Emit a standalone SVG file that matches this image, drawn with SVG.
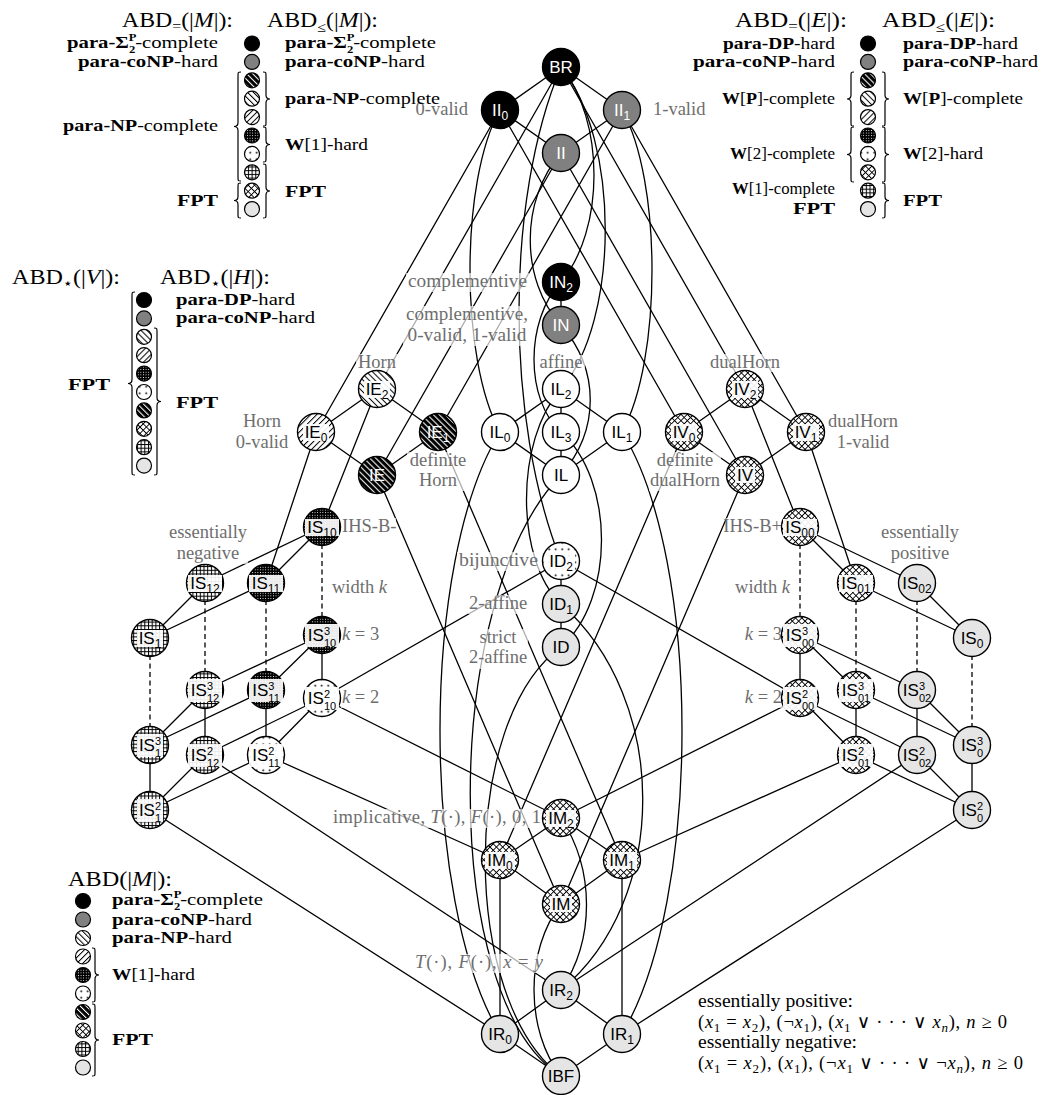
<svg xmlns="http://www.w3.org/2000/svg" width="1047" height="1095" viewBox="0 0 1047 1095">
<style>
.e{stroke:#000;stroke-width:1.3;fill:none}
.dash{stroke-dasharray:5 3.5}
.nd{stroke:#000;stroke-width:1.4}
.nl{font-family:"Liberation Sans",Arial,sans-serif;font-size:17px;text-anchor:middle;fill:#000}
.wt{fill:#fff}
.s{font-size:12px}
.t{font-size:11px}
.nb{fill:#fff;fill-opacity:0.92}
.lb{fill:#fff;fill-opacity:0.68}
.gl{font-family:"Liberation Serif","DejaVu Serif",serif;font-size:18.5px;fill:#6e6e6e}
.mid{text-anchor:middle}
.end{text-anchor:end}
.lg{font-family:"Liberation Serif","DejaVu Sans",serif;font-size:16.5px;fill:#000}
.tt{font-family:"Liberation Serif","DejaVu Sans",serif;font-size:21px;fill:#000}
.br{stroke:#000;stroke-width:1.2;fill:none}
.lc{stroke:#000;stroke-width:1.2}
.b{font-weight:bold}
.i{font-style:italic}
.ss{font-size:10px;font-weight:bold}
</style>
<defs>
<pattern id="pBW" patternUnits="userSpaceOnUse" width="4.2" height="4.2" patternTransform="rotate(-45)"><rect width="4.2" height="4.2" fill="#000"/><rect width="1.05" height="4.2" fill="#fff"/></pattern>
<pattern id="pNW" patternUnits="userSpaceOnUse" width="4.2" height="4.2" patternTransform="rotate(-45)"><rect width="4.2" height="4.2" fill="#fff"/><rect width="1" height="4.2" fill="#000"/></pattern>
<pattern id="pNE" patternUnits="userSpaceOnUse" width="4.2" height="4.2" patternTransform="rotate(45)"><rect width="4.2" height="4.2" fill="#fff"/><rect width="1" height="4.2" fill="#000"/></pattern>
<pattern id="pDD" patternUnits="userSpaceOnUse" width="2.6" height="2.6"><rect width="2.6" height="2.6" fill="#000"/><rect width="0.9" height="0.9" fill="#fff"/></pattern>
<pattern id="pSD" patternUnits="userSpaceOnUse" width="6.5" height="6.5"><rect width="6.5" height="6.5" fill="#fff"/><circle cx="3.2" cy="3.2" r="0.95" fill="#000"/></pattern>
<pattern id="pGR" patternUnits="userSpaceOnUse" width="3.7" height="3.7"><rect width="3.7" height="3.7" fill="#fff"/><rect width="3.7" height="1" fill="#000"/><rect width="1" height="3.7" fill="#000"/></pattern>
<pattern id="pXH" patternUnits="userSpaceOnUse" width="4.5" height="4.5" patternTransform="rotate(45)"><rect width="4.5" height="4.5" fill="#fff"/><rect width="4.5" height="0.9" fill="#000"/><rect width="0.9" height="4.5" fill="#000"/></pattern>
</defs>
<rect width="1047" height="1095" fill="#fff"/>

<g id="edges">
<path class="e" d="M561,67L500,110M561,67L622,110M561,67L377,389M561,67L745,389M500,110L561,153M622,110L561,153M500,110L316,432M500,110L684,432M622,110L438,432M622,110L806,432M561,153L377,475M561,153L745,475M561,282L561,325"/>
<path class="e" d="M377,389L316,432M377,389L438,432M316,432L377,475M438,432L377,475M745,389L684,432M745,389L806,432M684,432L745,475M806,432L745,475"/>
<path class="e" d="M561,389L500,432M561,389L622,432M561,389L561,432M500,432L561,475M622,432L561,475M561,432L561,475"/>
<path class="e" d="M377,389L322,527M316,432L266,583M438,432L622,860M377,475L561,904M745,389L800,527M806,432L856,583M684,432L500,860M745,475L561,904"/>
<path class="e" d="M322,527L205,583M322,527L266,583M205,583L150,638M266,583L150,638M322,635L205,690M322,635L266,690M322,635L322,698M205,690L150,745M266,690L150,745M205,690L205,755M266,690L266,755M150,745L150,810M322,698L205,755M322,698L266,755M205,755L150,810M266,755L150,810"/>
<path class="e" d="M800,527L917,583M800,527L856,583M917,583L972,638M856,583L972,638M800,635L917,690M800,635L856,690M800,635L800,698M917,690L972,745M856,690L972,745M917,690L917,755M856,690L856,755M972,745L972,810M800,698L917,755M800,698L856,755M917,755L972,810M856,755L972,810"/>
<path class="e dash" d="M322,527L322,635M205,583L205,690M266,583L266,690M150,638L150,745M800,527L800,635M917,583L917,690M856,583L856,690M972,638L972,745"/>
<path class="e" d="M322,698L561,561M800,698L561,561M322,698L561,818M800,698L561,818M266,755L500,860M856,755L622,860M205,755L561,990M917,755L561,990M150,810L500,1034M972,810L622,1034"/>
<path class="e" d="M561,561L561,604M561,604L561,647M561,818L500,860M561,818L622,860M500,860L561,904M622,860L561,904M500,860L500,1034M622,860L622,1034M561,990L500,1034M561,990L622,1034M500,1034L561,1076M622,1034L561,1076"/>
<path class="e" d="M561,67C605,120 605,230 561,282"/>
<path class="e" d="M561,67C620,140 620,320 561,389"/>
<path class="e" d="M561,67C505,200 505,420 561,561"/>
<path class="e" d="M561,153C520,200 520,280 561,325"/>
<path class="e" d="M561,282C525,320 525,400 561,432"/>
<path class="e" d="M561,325C600,370 600,430 561,475"/>
<path class="e" d="M500,110C460,180 460,360 500,432"/>
<path class="e" d="M622,110C662,180 662,360 622,432"/>
<path class="e" d="M561,389C515,440 515,560 561,604"/>
<path class="e" d="M561,432C615,480 615,600 561,647"/>
<path class="e" d="M561,604C670,700 670,900 561,990"/>
<path class="e" d="M561,647C460,720 460,1000 561,1076"/>
<path class="e" d="M561,475C440,600 440,1000 561,1076"/>
<path class="e" d="M500,432C420,560 420,900 500,1034"/>
<path class="e" d="M622,432C702,560 702,900 622,1034"/>
<path class="e" d="M561,818C595,870 595,940 561,990"/>
<path class="e" d="M561,904C525,950 525,1030 561,1076"/>
</g>

<g id="labels">
<rect class="lb" x="414" y="101" width="56" height="19"/><text class="gl end" x="468" y="115">0-valid</text>
<rect class="lb" x="651" y="101" width="56" height="19"/><text class="gl" x="653" y="115">1-valid</text>
<rect class="lb" x="406" y="273" width="123" height="19"/><text class="gl end" x="527" y="287" textLength="119" lengthAdjust="spacingAndGlyphs">complementive</text>
<rect class="lb" x="403" y="306" width="127" height="40"/><text class="gl mid" x="467" y="320" textLength="122" lengthAdjust="spacingAndGlyphs">complementive,</text><text class="gl mid" x="467" y="341" textLength="119" lengthAdjust="spacingAndGlyphs">0-valid, 1-valid</text>
<rect class="lb" x="537" y="355" width="48" height="18"/><text class="gl mid" x="561" y="368">affine</text>
<rect class="lb" x="356" y="354" width="42" height="18"/><text class="gl mid" x="377" y="368">Horn</text>
<rect class="lb" x="233" y="413" width="58" height="40"/><text class="gl mid" x="262" y="427">Horn</text><text class="gl mid" x="262" y="448">0-valid</text>
<rect class="lb" x="407" y="452" width="62" height="39"/><text class="gl mid" x="438" y="466">definite</text><text class="gl mid" x="438" y="486">Horn</text>
<rect class="lb" x="709" y="354" width="72" height="18"/><text class="gl mid" x="745" y="368">dualHorn</text>
<rect class="lb" x="827" y="413" width="72" height="40"/><text class="gl mid" x="863" y="427">dualHorn</text><text class="gl mid" x="863" y="448">1-valid</text>
<rect class="lb" x="649" y="452" width="72" height="39"/><text class="gl mid" x="685" y="466">definite</text><text class="gl mid" x="685" y="486">dualHorn</text>
<rect class="lb" x="341" y="518" width="55" height="19"/><text class="gl" x="342" y="532">IHS-B-</text>
<rect class="lb" x="726" y="518" width="57" height="19"/><text class="gl end" x="782" y="532">IHS-B+</text>
<rect class="lb" x="168" y="524" width="80" height="40"/><text class="gl mid" x="208" y="538">essentially</text><text class="gl mid" x="208" y="559">negative</text>
<rect class="lb" x="880" y="524" width="80" height="40"/><text class="gl mid" x="920" y="538">essentially</text><text class="gl mid" x="920" y="559">positive</text>
<rect class="lb" x="331" y="579" width="60" height="19"/><text class="gl" x="332" y="593">width <tspan class="i">k</tspan></text>
<rect class="lb" x="731" y="579" width="60" height="19"/><text class="gl end" x="790" y="593">width <tspan class="i">k</tspan></text>
<rect class="lb" x="341" y="627" width="40" height="18"/><text class="gl" x="342" y="640"><tspan class="i">k</tspan> = 3</text>
<rect class="lb" x="341" y="690" width="40" height="18"/><text class="gl" x="342" y="703"><tspan class="i">k</tspan> = 2</text>
<rect class="lb" x="743" y="627" width="40" height="18"/><text class="gl end" x="782" y="640"><tspan class="i">k</tspan> = 3</text>
<rect class="lb" x="743" y="690" width="40" height="18"/><text class="gl end" x="782" y="703"><tspan class="i">k</tspan> = 2</text>
<rect class="lb" x="457" y="552" width="83" height="19"/><text class="gl end" x="538" y="566" textLength="79" lengthAdjust="spacingAndGlyphs">bijunctive</text>
<rect class="lb" x="468" y="595" width="60" height="19"/><text class="gl mid" x="498" y="609">2-affine</text>
<rect class="lb" x="468" y="629" width="60" height="40"/><text class="gl mid" x="498" y="643">strict</text><text class="gl mid" x="498" y="663">2-affine</text>
<rect class="lb" x="331" y="809" width="212" height="19"/><text class="gl end" x="541" y="823" textLength="208" lengthAdjust="spacing">implicative, <tspan class="i">T</tspan>(·), <tspan class="i">F</tspan>(·), 0, 1</text>
<rect class="lb" x="413" y="954" width="132" height="19"/><text class="gl" x="415" y="968" textLength="128" lengthAdjust="spacing"><tspan class="i">T</tspan>(·), <tspan class="i">F</tspan>(·), <tspan class="i">x</tspan> = <tspan class="i">y</tspan></text>
</g>

<g id="nodes">
<g id="n-BR"><circle class="nd" cx="561" cy="67" r="18.5" fill="#000"/><text class="nl wt" x="561" y="73">BR</text></g>
<g id="n-II0"><circle class="nd" cx="500" cy="110" r="18.5" fill="#000"/><text class="nl wt" x="500" y="116">II<tspan class="s" dy="4">0</tspan></text></g>
<g id="n-II1"><circle class="nd" cx="622" cy="110" r="18.5" fill="#808080"/><text class="nl wt" x="622" y="116">II<tspan class="s" dy="4">1</tspan></text></g>
<g id="n-II"><circle class="nd" cx="561" cy="153" r="18.5" fill="#808080"/><text class="nl wt" x="561" y="159">II</text></g>
<g id="n-IN2"><circle class="nd" cx="561" cy="282" r="18.5" fill="#000"/><text class="nl wt" x="561" y="288">IN<tspan class="s" dy="4">2</tspan></text></g>
<g id="n-IN"><circle class="nd" cx="561" cy="325" r="18.5" fill="#808080"/><text class="nl wt" x="561" y="331">IN</text></g>
<g id="n-IL2"><circle class="nd" cx="561" cy="389" r="18.5" fill="#fff"/><text class="nl" x="561" y="395">IL<tspan class="s" dy="4">2</tspan></text></g>
<g id="n-IL0"><circle class="nd" cx="500" cy="432" r="18.5" fill="#fff"/><text class="nl" x="500" y="438">IL<tspan class="s" dy="4">0</tspan></text></g>
<g id="n-IL3"><circle class="nd" cx="561" cy="432" r="18.5" fill="#fff"/><text class="nl" x="561" y="438">IL<tspan class="s" dy="4">3</tspan></text></g>
<g id="n-IL1"><circle class="nd" cx="622" cy="432" r="18.5" fill="#fff"/><text class="nl" x="622" y="438">IL<tspan class="s" dy="4">1</tspan></text></g>
<g id="n-IL"><circle class="nd" cx="561" cy="475" r="18.5" fill="#fff"/><text class="nl" x="561" y="481">IL</text></g>
<g id="n-IE2"><circle class="nd" cx="377" cy="389" r="18.5" fill="url(#pNW)"/><rect class="nb" x="364" y="381" width="26" height="17"/><text class="nl" x="377" y="395">IE<tspan class="s" dy="4">2</tspan></text></g>
<g id="n-IE0"><circle class="nd" cx="316" cy="432" r="18.5" fill="url(#pNE)"/><rect class="nb" x="303" y="424" width="26" height="17"/><text class="nl" x="316" y="438">IE<tspan class="s" dy="4">0</tspan></text></g>
<g id="n-IE1"><circle class="nd" cx="438" cy="432" r="18.5" fill="url(#pBW)"/><text class="nl wt" x="438" y="438">IE<tspan class="s" dy="4">1</tspan></text></g>
<g id="n-IE"><circle class="nd" cx="377" cy="475" r="18.5" fill="url(#pBW)"/><text class="nl wt" x="377" y="481">IE</text></g>
<g id="n-IV2"><circle class="nd" cx="745" cy="389" r="18.5" fill="url(#pXH)"/><rect class="nb" x="732" y="381" width="26" height="17"/><text class="nl" x="745" y="395">IV<tspan class="s" dy="4">2</tspan></text></g>
<g id="n-IV0"><circle class="nd" cx="684" cy="432" r="18.5" fill="url(#pXH)"/><rect class="nb" x="671" y="424" width="26" height="17"/><text class="nl" x="684" y="438">IV<tspan class="s" dy="4">0</tspan></text></g>
<g id="n-IV1"><circle class="nd" cx="806" cy="432" r="18.5" fill="url(#pXH)"/><rect class="nb" x="793" y="424" width="26" height="17"/><text class="nl" x="806" y="438">IV<tspan class="s" dy="4">1</tspan></text></g>
<g id="n-IV"><circle class="nd" cx="745" cy="475" r="18.5" fill="url(#pXH)"/><rect class="nb" x="735" y="467" width="20" height="16"/><text class="nl" x="745" y="481">IV</text></g>
<g id="n-IS10"><circle class="nd" cx="322" cy="527" r="18.5" fill="url(#pDD)"/><rect class="nb" x="305" y="519" width="34" height="17"/><text class="nl" x="322" y="533">IS<tspan class="s" dy="4">10</tspan></text></g>
<g id="n-IS12"><circle class="nd" cx="205" cy="583" r="18.5" fill="url(#pGR)"/><rect class="nb" x="188" y="575" width="34" height="17"/><text class="nl" x="205" y="589">IS<tspan class="s" dy="4">12</tspan></text></g>
<g id="n-IS11"><circle class="nd" cx="266" cy="583" r="18.5" fill="url(#pDD)"/><rect class="nb" x="249" y="575" width="34" height="17"/><text class="nl" x="266" y="589">IS<tspan class="s" dy="4">11</tspan></text></g>
<g id="n-IS1"><circle class="nd" cx="150" cy="638" r="18.5" fill="url(#pGR)"/><rect class="nb" x="137" y="630" width="26" height="17"/><text class="nl" x="150" y="644">IS<tspan class="s" dy="4">1</tspan></text></g>
<g id="n-IS10-3"><circle class="nd" cx="322" cy="635" r="18.5" fill="url(#pDD)"/><rect class="nb" x="305" y="624" width="34" height="23"/><text class="nl" x="322" y="641">IS<tspan class="t" dy="-6.5">3</tspan><tspan class="t" dx="-6.1" dy="12.5">10</tspan></text></g>
<g id="n-IS12-3"><circle class="nd" cx="205" cy="690" r="18.5" fill="url(#pGR)"/><rect class="nb" x="188" y="679" width="34" height="23"/><text class="nl" x="205" y="696">IS<tspan class="t" dy="-6.5">3</tspan><tspan class="t" dx="-6.1" dy="12.5">12</tspan></text></g>
<g id="n-IS11-3"><circle class="nd" cx="266" cy="690" r="18.5" fill="url(#pDD)"/><rect class="nb" x="249" y="679" width="34" height="23"/><text class="nl" x="266" y="696">IS<tspan class="t" dy="-6.5">3</tspan><tspan class="t" dx="-6.1" dy="12.5">11</tspan></text></g>
<g id="n-IS1-3"><circle class="nd" cx="150" cy="745" r="18.5" fill="url(#pGR)"/><rect class="nb" x="137" y="734" width="26" height="23"/><text class="nl" x="150" y="751">IS<tspan class="t" dy="-6.5">3</tspan><tspan class="t" dx="-6.1" dy="12.5">1</tspan></text></g>
<g id="n-IS10-2"><circle class="nd" cx="322" cy="698" r="18.5" fill="url(#pSD)"/><rect class="nb" x="305" y="687" width="34" height="23"/><text class="nl" x="322" y="704">IS<tspan class="t" dy="-6.5">2</tspan><tspan class="t" dx="-6.1" dy="12.5">10</tspan></text></g>
<g id="n-IS12-2"><circle class="nd" cx="205" cy="755" r="18.5" fill="url(#pGR)"/><rect class="nb" x="188" y="744" width="34" height="23"/><text class="nl" x="205" y="761">IS<tspan class="t" dy="-6.5">2</tspan><tspan class="t" dx="-6.1" dy="12.5">12</tspan></text></g>
<g id="n-IS11-2"><circle class="nd" cx="266" cy="755" r="18.5" fill="url(#pSD)"/><rect class="nb" x="249" y="744" width="34" height="23"/><text class="nl" x="266" y="761">IS<tspan class="t" dy="-6.5">2</tspan><tspan class="t" dx="-6.1" dy="12.5">11</tspan></text></g>
<g id="n-IS1-2"><circle class="nd" cx="150" cy="810" r="18.5" fill="url(#pGR)"/><rect class="nb" x="137" y="799" width="26" height="23"/><text class="nl" x="150" y="816">IS<tspan class="t" dy="-6.5">2</tspan><tspan class="t" dx="-6.1" dy="12.5">1</tspan></text></g>
<g id="n-IS00"><circle class="nd" cx="800" cy="527" r="18.5" fill="url(#pXH)"/><rect class="nb" x="783" y="519" width="34" height="17"/><text class="nl" x="800" y="533">IS<tspan class="s" dy="4">00</tspan></text></g>
<g id="n-IS02"><circle class="nd" cx="917" cy="583" r="18.5" fill="#e5e5e5"/><text class="nl" x="917" y="589">IS<tspan class="s" dy="4">02</tspan></text></g>
<g id="n-IS01"><circle class="nd" cx="856" cy="583" r="18.5" fill="url(#pXH)"/><rect class="nb" x="839" y="575" width="34" height="17"/><text class="nl" x="856" y="589">IS<tspan class="s" dy="4">01</tspan></text></g>
<g id="n-IS0"><circle class="nd" cx="972" cy="638" r="18.5" fill="#e5e5e5"/><text class="nl" x="972" y="644">IS<tspan class="s" dy="4">0</tspan></text></g>
<g id="n-IS00-3"><circle class="nd" cx="800" cy="635" r="18.5" fill="url(#pXH)"/><rect class="nb" x="783" y="624" width="34" height="23"/><text class="nl" x="800" y="641">IS<tspan class="t" dy="-6.5">3</tspan><tspan class="t" dx="-6.1" dy="12.5">00</tspan></text></g>
<g id="n-IS02-3"><circle class="nd" cx="917" cy="690" r="18.5" fill="#e5e5e5"/><text class="nl" x="917" y="696">IS<tspan class="t" dy="-6.5">3</tspan><tspan class="t" dx="-6.1" dy="12.5">02</tspan></text></g>
<g id="n-IS01-3"><circle class="nd" cx="856" cy="690" r="18.5" fill="url(#pXH)"/><rect class="nb" x="839" y="679" width="34" height="23"/><text class="nl" x="856" y="696">IS<tspan class="t" dy="-6.5">3</tspan><tspan class="t" dx="-6.1" dy="12.5">01</tspan></text></g>
<g id="n-IS0-3"><circle class="nd" cx="972" cy="745" r="18.5" fill="#e5e5e5"/><text class="nl" x="972" y="751">IS<tspan class="t" dy="-6.5">3</tspan><tspan class="t" dx="-6.1" dy="12.5">0</tspan></text></g>
<g id="n-IS00-2"><circle class="nd" cx="800" cy="698" r="18.5" fill="url(#pXH)"/><rect class="nb" x="783" y="687" width="34" height="23"/><text class="nl" x="800" y="704">IS<tspan class="t" dy="-6.5">2</tspan><tspan class="t" dx="-6.1" dy="12.5">00</tspan></text></g>
<g id="n-IS02-2"><circle class="nd" cx="917" cy="755" r="18.5" fill="#e5e5e5"/><text class="nl" x="917" y="761">IS<tspan class="t" dy="-6.5">2</tspan><tspan class="t" dx="-6.1" dy="12.5">02</tspan></text></g>
<g id="n-IS01-2"><circle class="nd" cx="856" cy="755" r="18.5" fill="url(#pXH)"/><rect class="nb" x="839" y="744" width="34" height="23"/><text class="nl" x="856" y="761">IS<tspan class="t" dy="-6.5">2</tspan><tspan class="t" dx="-6.1" dy="12.5">01</tspan></text></g>
<g id="n-IS0-2"><circle class="nd" cx="972" cy="810" r="18.5" fill="#e5e5e5"/><text class="nl" x="972" y="816">IS<tspan class="t" dy="-6.5">2</tspan><tspan class="t" dx="-6.1" dy="12.5">0</tspan></text></g>
<g id="n-ID2"><circle class="nd" cx="561" cy="561" r="18.5" fill="url(#pSD)"/><rect class="nb" x="547" y="553" width="28" height="17"/><text class="nl" x="561" y="567">ID<tspan class="s" dy="4">2</tspan></text></g>
<g id="n-ID1"><circle class="nd" cx="561" cy="604" r="18.5" fill="#e5e5e5"/><text class="nl" x="561" y="610">ID<tspan class="s" dy="4">1</tspan></text></g>
<g id="n-ID"><circle class="nd" cx="561" cy="647" r="18.5" fill="#e5e5e5"/><text class="nl" x="561" y="653">ID</text></g>
<g id="n-IM2"><circle class="nd" cx="561" cy="818" r="18.5" fill="url(#pXH)"/><rect class="nb" x="546" y="810" width="30" height="17"/><text class="nl" x="561" y="824">IM<tspan class="s" dy="4">2</tspan></text></g>
<g id="n-IM0"><circle class="nd" cx="500" cy="860" r="18.5" fill="url(#pXH)"/><rect class="nb" x="485" y="852" width="30" height="17"/><text class="nl" x="500" y="866">IM<tspan class="s" dy="4">0</tspan></text></g>
<g id="n-IM1"><circle class="nd" cx="622" cy="860" r="18.5" fill="url(#pXH)"/><rect class="nb" x="607" y="852" width="30" height="17"/><text class="nl" x="622" y="866">IM<tspan class="s" dy="4">1</tspan></text></g>
<g id="n-IM"><circle class="nd" cx="561" cy="904" r="18.5" fill="url(#pXH)"/><rect class="nb" x="550" y="896" width="22" height="16"/><text class="nl" x="561" y="910">IM</text></g>
<g id="n-IR2"><circle class="nd" cx="561" cy="990" r="18.5" fill="#e5e5e5"/><text class="nl" x="561" y="996">IR<tspan class="s" dy="4">2</tspan></text></g>
<g id="n-IR0"><circle class="nd" cx="500" cy="1034" r="18.5" fill="#e5e5e5"/><text class="nl" x="500" y="1040">IR<tspan class="s" dy="4">0</tspan></text></g>
<g id="n-IR1"><circle class="nd" cx="622" cy="1034" r="18.5" fill="#e5e5e5"/><text class="nl" x="622" y="1040">IR<tspan class="s" dy="4">1</tspan></text></g>
<g id="n-IBF"><circle class="nd" cx="561" cy="1076" r="18.5" fill="#e5e5e5"/><text class="nl" x="561" y="1082">IBF</text></g>
</g>

<g id="legend-top-left">
<text class="tt" x="122" y="27" textLength="111" lengthAdjust="spacingAndGlyphs">ABD<tspan font-size="14" dy="4">=</tspan><tspan dy="-4">(|</tspan><tspan class="i">M</tspan>|):</text>
<text class="tt" x="267" y="27" textLength="111" lengthAdjust="spacingAndGlyphs">ABD<tspan font-size="14" dy="5">≤</tspan><tspan dy="-5">(|</tspan><tspan class="i">M</tspan>|):</text>
<circle class="lc" cx="252" cy="43.5" r="7.5" fill="#000"/>
<circle class="lc" cx="252" cy="61.9" r="7.5" fill="#808080"/>
<circle class="lc" cx="252" cy="80.3" r="7.5" fill="url(#pBW)"/>
<circle class="lc" cx="252" cy="98.7" r="7.5" fill="url(#pNW)"/>
<circle class="lc" cx="252" cy="117.1" r="7.5" fill="url(#pNE)"/>
<circle class="lc" cx="252" cy="135.5" r="7.5" fill="url(#pDD)"/>
<circle class="lc" cx="252" cy="153.9" r="7.5" fill="url(#pSD)"/>
<circle class="lc" cx="252" cy="172.3" r="7.5" fill="url(#pGR)"/>
<circle class="lc" cx="252" cy="190.7" r="7.5" fill="url(#pXH)"/>
<circle class="lc" cx="252" cy="209.1" r="7.5" fill="#e5e5e5"/>
<text class="lg end" x="218" y="48" textLength="151" lengthAdjust="spacingAndGlyphs"><tspan class="b">para-Σ</tspan><tspan class="ss" dy="-7">P</tspan><tspan class="ss" dx="-6.1" dy="12">2</tspan><tspan dy="-5">-complete</tspan></text>
<text class="lg" x="285" y="48" textLength="151" lengthAdjust="spacingAndGlyphs"><tspan class="b">para-Σ</tspan><tspan class="ss" dy="-7">P</tspan><tspan class="ss" dx="-6.1" dy="12">2</tspan><tspan dy="-5">-complete</tspan></text>
<text class="lg end" x="218" y="67" textLength="140" lengthAdjust="spacingAndGlyphs"><tspan class="b">para-coNP</tspan>-hard</text>
<text class="lg" x="285" y="67" textLength="140" lengthAdjust="spacingAndGlyphs"><tspan class="b">para-coNP</tspan>-hard</text>
<text class="lg" x="285" y="104" textLength="155" lengthAdjust="spacingAndGlyphs"><tspan class="b">para-NP</tspan>-complete</text>
<text class="lg" x="285" y="150" textLength="83" lengthAdjust="spacingAndGlyphs"><tspan class="b">W</tspan>[1]-hard</text>
<text class="lg end" x="218" y="131" textLength="155" lengthAdjust="spacingAndGlyphs"><tspan class="b">para-NP</tspan>-complete</text>
<text class="lg b" x="285" y="197" textLength="41" lengthAdjust="spacingAndGlyphs">FPT</text>
<text class="lg b end" x="218" y="206" textLength="41" lengthAdjust="spacingAndGlyphs">FPT</text>
<path class="br" d="M241,72C238,72 238,72 238,76L238,122.5C238,125.5 237,126.5 234,126.5C237,126.5 238,127.5 238,130.5L238,177C238,181 238,181 241,181"/>
<path class="br" d="M241,183C238,183 238,183 238,187L238,196.5C238,199.5 237,200.5 234,200.5C237,200.5 238,201.5 238,204.5L238,214C238,218 238,218 241,218"/>
<path class="br" d="M263,72C266,72 266,72 266,76L266,95C266,98 267,99 270,99C267,99 266,100 266,103L266,122C266,126 266,126 263,126"/>
<path class="br" d="M263,127C266,127 266,127 266,131L266,140.5C266,143.5 267,144.5 270,144.5C267,144.5 266,145.5 266,148.5L266,158C266,162 266,162 263,162"/>
<path class="br" d="M263,164C266,164 266,164 266,168L266,187C266,190 267,191 270,191C267,191 266,192 266,195L266,214C266,218 266,218 263,218"/>
</g>

<g id="legend-top-right">
<text class="tt" x="735" y="27" textLength="112" lengthAdjust="spacingAndGlyphs">ABD<tspan font-size="14" dy="4">=</tspan><tspan dy="-4">(|</tspan><tspan class="i">E</tspan>|):</text>
<text class="tt" x="882" y="27" textLength="113" lengthAdjust="spacingAndGlyphs">ABD<tspan font-size="14" dy="5">≤</tspan><tspan dy="-5">(|</tspan><tspan class="i">E</tspan>|):</text>
<circle class="lc" cx="868" cy="43.5" r="7.5" fill="#000"/>
<circle class="lc" cx="868" cy="61.9" r="7.5" fill="#808080"/>
<circle class="lc" cx="868" cy="80.3" r="7.5" fill="url(#pBW)"/>
<circle class="lc" cx="868" cy="98.7" r="7.5" fill="url(#pNW)"/>
<circle class="lc" cx="868" cy="117.1" r="7.5" fill="url(#pNE)"/>
<circle class="lc" cx="868" cy="135.5" r="7.5" fill="url(#pDD)"/>
<circle class="lc" cx="868" cy="153.9" r="7.5" fill="url(#pSD)"/>
<circle class="lc" cx="868" cy="172.3" r="7.5" fill="url(#pXH)"/>
<circle class="lc" cx="868" cy="190.7" r="7.5" fill="url(#pGR)"/>
<circle class="lc" cx="868" cy="209.1" r="7.5" fill="#e5e5e5"/>
<text class="lg end" x="835" y="49" textLength="112" lengthAdjust="spacingAndGlyphs"><tspan class="b">para-DP</tspan>-hard</text>
<text class="lg" x="903" y="49" textLength="115" lengthAdjust="spacingAndGlyphs"><tspan class="b">para-DP</tspan>-hard</text>
<text class="lg end" x="835" y="67" textLength="142" lengthAdjust="spacingAndGlyphs"><tspan class="b">para-coNP</tspan>-hard</text>
<text class="lg" x="903" y="67" textLength="135" lengthAdjust="spacingAndGlyphs"><tspan class="b">para-coNP</tspan>-hard</text>
<text class="lg end" x="835" y="104" textLength="113" lengthAdjust="spacingAndGlyphs"><tspan class="b">W</tspan>[<tspan class="b">P</tspan>]-complete</text>
<text class="lg" x="903" y="104" textLength="120" lengthAdjust="spacingAndGlyphs"><tspan class="b">W</tspan>[<tspan class="b">P</tspan>]-complete</text>
<text class="lg end" x="835" y="159" textLength="105" lengthAdjust="spacingAndGlyphs"><tspan class="b">W</tspan>[2]-complete</text>
<text class="lg" x="903" y="159" textLength="80" lengthAdjust="spacingAndGlyphs"><tspan class="b">W</tspan>[2]-hard</text>
<text class="lg end" x="835" y="194" textLength="103" lengthAdjust="spacingAndGlyphs"><tspan class="b">W</tspan>[1]-complete</text>
<text class="lg b end" x="835" y="214" textLength="42" lengthAdjust="spacingAndGlyphs">FPT</text>
<text class="lg b" x="903" y="206" textLength="39" lengthAdjust="spacingAndGlyphs">FPT</text>
<path class="br" d="M854,72C851,72 851,72 851,76L851,95C851,98 850,99 847,99C850,99 851,100 851,103L851,122C851,126 851,126 854,126"/>
<path class="br" d="M854,127C851,127 851,127 851,131L851,150.5C851,153.5 850,154.5 847,154.5C850,154.5 851,155.5 851,158.5L851,178C851,182 851,182 854,182"/>
<path class="br" d="M882,72C885,72 885,72 885,76L885,95C885,98 886,99 889,99C886,99 885,100 885,103L885,122C885,126 885,126 882,126"/>
<path class="br" d="M882,127C885,127 885,127 885,131L885,150.5C885,153.5 886,154.5 889,154.5C886,154.5 885,155.5 885,158.5L885,178C885,182 885,182 882,182"/>
<path class="br" d="M882,183C885,183 885,183 885,187L885,196.5C885,199.5 886,200.5 889,200.5C886,200.5 885,201.5 885,204.5L885,214C885,218 885,218 882,218"/>
</g>

<g id="legend-mid-left">
<text class="tt" x="12" y="284" textLength="108" lengthAdjust="spacingAndGlyphs">ABD<tspan font-size="14" dy="4">⋆</tspan><tspan dy="-4">(|</tspan><tspan class="i">V</tspan>|):</text>
<text class="tt" x="160" y="284" textLength="110" lengthAdjust="spacingAndGlyphs">ABD<tspan font-size="14" dy="4">⋆</tspan><tspan dy="-4">(|</tspan><tspan class="i">H</tspan>|):</text>
<circle class="lc" cx="144" cy="300" r="7.5" fill="#000"/>
<circle class="lc" cx="144" cy="318.4" r="7.5" fill="#808080"/>
<circle class="lc" cx="144" cy="336.8" r="7.5" fill="url(#pNW)"/>
<circle class="lc" cx="144" cy="355.2" r="7.5" fill="url(#pNE)"/>
<circle class="lc" cx="144" cy="373.6" r="7.5" fill="url(#pDD)"/>
<circle class="lc" cx="144" cy="392" r="7.5" fill="url(#pSD)"/>
<circle class="lc" cx="144" cy="410.4" r="7.5" fill="url(#pBW)"/>
<circle class="lc" cx="144" cy="428.8" r="7.5" fill="url(#pXH)"/>
<circle class="lc" cx="144" cy="447.2" r="7.5" fill="url(#pGR)"/>
<circle class="lc" cx="144" cy="465.6" r="7.5" fill="#e5e5e5"/>
<text class="lg" x="176" y="305" textLength="119" lengthAdjust="spacingAndGlyphs"><tspan class="b">para-DP</tspan>-hard</text>
<text class="lg" x="176" y="323" textLength="139" lengthAdjust="spacingAndGlyphs"><tspan class="b">para-coNP</tspan>-hard</text>
<text class="lg b end" x="110" y="390" textLength="42" lengthAdjust="spacingAndGlyphs">FPT</text>
<text class="lg b" x="176" y="408" textLength="42" lengthAdjust="spacingAndGlyphs">FPT</text>
<path class="br" d="M135,292C132,292 132,292 132,296L132,379.5C132,382.5 131,383.5 128,383.5C131,383.5 132,384.5 132,387.5L132,471C132,475 132,475 135,475"/>
<path class="br" d="M154,328C157,328 157,328 157,332L157,397.5C157,400.5 158,401.5 161,401.5C158,401.5 157,402.5 157,405.5L157,471C157,475 157,475 154,475"/>
</g>

<g id="legend-bottom-left">
<text class="tt" x="68" y="886" textLength="104" lengthAdjust="spacingAndGlyphs">ABD(|<tspan class="i">M</tspan>|):</text>
<circle class="lc" cx="83" cy="901" r="7.5" fill="#000"/>
<circle class="lc" cx="83" cy="919.5" r="7.5" fill="#808080"/>
<circle class="lc" cx="83" cy="938" r="7.5" fill="url(#pNW)"/>
<circle class="lc" cx="83" cy="956.5" r="7.5" fill="url(#pNE)"/>
<circle class="lc" cx="83" cy="975" r="7.5" fill="url(#pDD)"/>
<circle class="lc" cx="83" cy="993.5" r="7.5" fill="url(#pSD)"/>
<circle class="lc" cx="83" cy="1012" r="7.5" fill="url(#pBW)"/>
<circle class="lc" cx="83" cy="1030.5" r="7.5" fill="url(#pXH)"/>
<circle class="lc" cx="83" cy="1049" r="7.5" fill="url(#pGR)"/>
<circle class="lc" cx="83" cy="1067.5" r="7.5" fill="#e5e5e5"/>
<text class="lg" x="112" y="905" textLength="151" lengthAdjust="spacingAndGlyphs"><tspan class="b">para-Σ</tspan><tspan class="ss" dy="-7">P</tspan><tspan class="ss" dx="-6.1" dy="12">2</tspan><tspan dy="-5">-complete</tspan></text>
<text class="lg" x="112" y="924.5" textLength="140" lengthAdjust="spacingAndGlyphs"><tspan class="b">para-coNP</tspan>-hard</text>
<text class="lg" x="112" y="943" textLength="120" lengthAdjust="spacingAndGlyphs"><tspan class="b">para-NP</tspan>-hard</text>
<text class="lg" x="112" y="980" textLength="83" lengthAdjust="spacingAndGlyphs"><tspan class="b">W</tspan>[1]-hard</text>
<text class="lg b" x="112" y="1045" textLength="41" lengthAdjust="spacingAndGlyphs">FPT</text>
<path class="br" d="M92,948C95,948 95,948 95,952L95,971C95,974 96,975 99,975C96,975 95,976 95,979L95,998C95,1002 95,1002 92,1002"/>
<path class="br" d="M92,1004C95,1004 95,1004 95,1008L95,1036C95,1039 96,1040 99,1040C96,1040 95,1041 95,1044L95,1072C95,1076 95,1076 92,1076"/>
</g>

<g id="note-bottom-right">
<text class="gl" style="fill:#000" x="698" y="1007" textLength="155" lengthAdjust="spacingAndGlyphs">essentially positive:</text>
<text class="gl" style="fill:#000" x="698" y="1028" textLength="309" lengthAdjust="spacing">(<tspan class="i">x</tspan><tspan font-size="13" dy="4">1</tspan><tspan dy="-4"> = </tspan><tspan class="i">x</tspan><tspan font-size="13" dy="4">2</tspan><tspan dy="-4">), (¬</tspan><tspan class="i">x</tspan><tspan font-size="13" dy="4">1</tspan><tspan dy="-4">), (</tspan><tspan class="i">x</tspan><tspan font-size="13" dy="4">1</tspan><tspan dy="-4"> ∨ · · · ∨ </tspan><tspan class="i">x</tspan><tspan class="i" font-size="13" dy="4">n</tspan><tspan dy="-4">), </tspan><tspan class="i">n</tspan> ≥ 0</text>
<text class="gl" style="fill:#000" x="698" y="1048" textLength="159" lengthAdjust="spacingAndGlyphs">essentially negative:</text>
<text class="gl" style="fill:#000" x="698" y="1069" textLength="325" lengthAdjust="spacing">(<tspan class="i">x</tspan><tspan font-size="13" dy="4">1</tspan><tspan dy="-4"> = </tspan><tspan class="i">x</tspan><tspan font-size="13" dy="4">2</tspan><tspan dy="-4">), (</tspan><tspan class="i">x</tspan><tspan font-size="13" dy="4">1</tspan><tspan dy="-4">), (¬</tspan><tspan class="i">x</tspan><tspan font-size="13" dy="4">1</tspan><tspan dy="-4"> ∨ · · · ∨ ¬</tspan><tspan class="i">x</tspan><tspan class="i" font-size="13" dy="4">n</tspan><tspan dy="-4">), </tspan><tspan class="i">n</tspan> ≥ 0</text>
</g>
</svg>
